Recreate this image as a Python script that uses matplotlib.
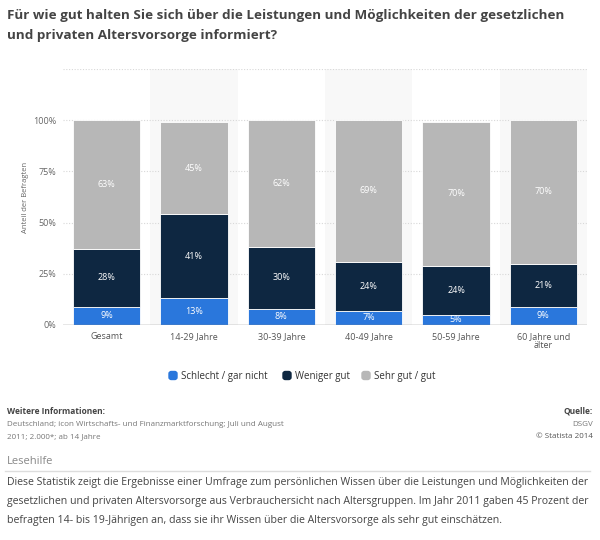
import matplotlib
matplotlib.use("Agg")
import matplotlib.pyplot as plt
from matplotlib.patches import FancyBboxPatch
import numpy as np

plt.rcParams['font.family'] = ['Open Sans', 'DejaVu Sans']

categories = ["Gesamt", "14-29 Jahre", "30-39 Jahre", "40-49 Jahre", "50-59 Jahre", "60 Jahre und\nälter"]
schlecht = [9, 13, 8, 7, 5, 9]
weniger = [28, 41, 30, 24, 24, 21]
sehr_gut = [63, 45, 62, 69, 70, 70]
series_names = ["Schlecht / gar nicht", "Weniger gut", "Sehr gut / gut"]
colors = ["#2a77dc", "#0e2741", "#b7b7b7"]
yticks = [0, 25, 50, 75, 100]

fig = plt.figure(figsize=(6, 5.4), dpi=100)
W, H = 600, 540

ax = fig.add_axes([63 / W, 1 - 325 / H, (587 - 63) / W, (325 - 69) / H])
x = np.arange(len(categories))
ax.set_xlim(-0.5, len(categories) - 0.5)
ax.set_ylim(0, 125)

# alternating background bands
for i in x:
    if i % 2 == 1:
        ax.axvspan(i - 0.5, i + 0.5, color="#f8f8f8", zorder=0, lw=0)

for yv in [25, 50, 75, 100, 125]:
    ax.axhline(yv, color="#d8d8d8", lw=0.8, ls=(0, (1, 1.5)), zorder=1)

bw = 0.77
bottom = np.zeros(len(categories))
for vals, col, name in zip([schlecht, weniger, sehr_gut], colors, series_names):
    vals = np.array(vals, dtype=float)
    ax.bar(x, vals, bw, bottom=bottom, color=col, edgecolor="white", linewidth=0.6, zorder=3, label=name)
    for xi, b, v in zip(x, bottom, vals):
        ax.text(xi, b + v / 2, f"{int(v)}%", ha="center", va="center", color="white",
                fontsize=6.5, zorder=4)
    bottom += vals

ax.axhline(0, color="#888888", lw=1.0, zorder=5)
ax.set_yticks(yticks)
ax.set_yticklabels([f"{t}%" for t in yticks], fontsize=6.5, color="#666666")
ax.set_xticks(x)
ax.set_xticklabels(categories, fontsize=6.5, color="#555555", linespacing=1.0)
ax.tick_params(axis="both", length=0, pad=5)
for s in ax.spines.values():
    s.set_visible(False)
ax.set_ylabel("Anteil der Befragten", fontsize=5.5, color="#666666", labelpad=2.5)

# legend
leg_y = 1 - 376 / H
items = [(169, 181, series_names[0], colors[0]), (283, 295, series_names[1], colors[1]),
         (362, 374, series_names[2], colors[2])]
for mx, tx, name, col in items:
    fig.patches.append(FancyBboxPatch((mx / W, leg_y - 3.5 / H), 8 / W, 8 / H,
                                      boxstyle="round,pad=0,rounding_size=0.004",
                                      transform=fig.transFigure, color=col, zorder=5))
    fig.text(tx / W, leg_y, name, fontsize=7, color="#333333", va="center", ha="left")

# title
fig.text(7 / W, 1 - 16 / H, "Für wie gut halten Sie sich über die Leistungen und Möglichkeiten der gesetzlichen",
         fontsize=9.7, fontweight="bold", color="#444444", va="center")
fig.text(7 / W, 1 - 35 / H, "und privaten Altersvorsorge informiert?",
         fontsize=9.7, fontweight="bold", color="#444444", va="center")

# footer
fig.text(7 / W, 1 - 411 / H, "Weitere Informationen:", fontsize=6, fontweight="bold", color="#444444", va="center")
fig.text(7 / W, 1 - 424 / H, "Deutschland; icon Wirtschafts- und Finanzmarktforschung; Juli und August",
         fontsize=5.8, color="#777777", va="center")
fig.text(7 / W, 1 - 437 / H, "2011; 2.000*; ab 14 Jahre", fontsize=5.8, color="#777777", va="center")
fig.text(593 / W, 1 - 411 / H, "Quelle:", fontsize=6, fontweight="bold", color="#444444", va="center", ha="right")
fig.text(593 / W, 1 - 424 / H, "DSGV", fontsize=5.8, color="#777777", va="center", ha="right")
fig.text(593 / W, 1 - 437 / H, "© Statista 2014", fontsize=5.8, color="#555555", va="center", ha="right")

fig.text(7 / W, 1 - 461 / H, "Lesehilfe", fontsize=8, color="#888888", va="center")
fig.add_artist(plt.Line2D([5 / W, 590 / W], [1 - 471 / H, 1 - 471 / H], transform=fig.transFigure,
                          color="#dddddd", lw=1))
body = ["Diese Statistik zeigt die Ergebnisse einer Umfrage zum persönlichen Wissen über die Leistungen und Möglichkeiten der",
        "gesetzlichen und privaten Altersvorsorge aus Verbrauchersicht nach Altersgruppen. Im Jahr 2011 gaben 45 Prozent der",
        "befragten 14- bis 19-Jährigen an, dass sie ihr Wissen über die Altersvorsorge als sehr gut einschätzen."]
for i, line in enumerate(body):
    fig.text(7 / W, 1 - (483 + i * 18.5) / H, line, fontsize=7.6, color="#444444", va="center")

fig.savefig("out.png", dpi=100, facecolor="white")
